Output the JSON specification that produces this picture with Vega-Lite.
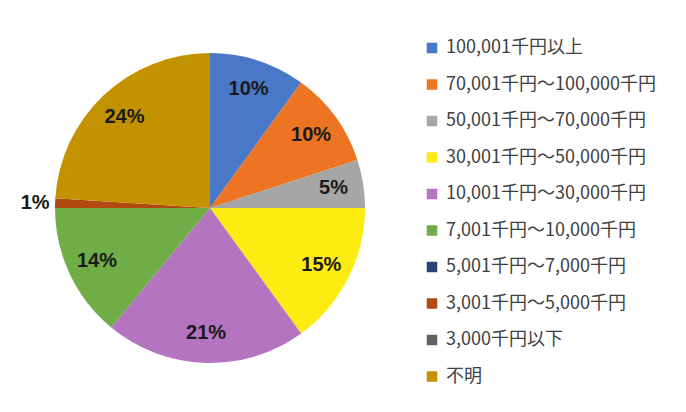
{
  "$schema": "https://vega.github.io/schema/vega-lite/v6.json",
  "width": 420,
  "height": 412,
  "padding": {"left": 0, "top": 2, "right": 0, "bottom": 0},
  "background": "white",
  "config": {"view": {"stroke": null}},
  "data": {
    "values": [
      {"idx": 1, "category": "100,001千円以上", "value": 10, "label": "10%"},
      {"idx": 2, "category": "70,001千円～100,000千円", "value": 10, "label": "10%"},
      {"idx": 3, "category": "50,001千円～70,000千円", "value": 5, "label": "5%"},
      {"idx": 4, "category": "30,001千円～50,000千円", "value": 15, "label": "15%"},
      {"idx": 5, "category": "10,001千円～30,000千円", "value": 21, "label": "21%"},
      {"idx": 6, "category": "7,001千円～10,000千円", "value": 14, "label": "14%"},
      {"idx": 7, "category": "5,001千円～7,000千円", "value": 0, "label": ""},
      {"idx": 8, "category": "3,001千円～5,000千円", "value": 1, "label": "1%"},
      {"idx": 9, "category": "3,000千円以下", "value": 0, "label": ""},
      {"idx": 10, "category": "不明", "value": 24, "label": "24%"}
    ]
  },
  "encoding": {
    "theta": {"field": "value", "type": "quantitative", "stack": true},
    "order": {"field": "idx", "type": "quantitative"}
  },
  "layer": [
    {
      "mark": {"type": "arc", "outerRadius": 155},
      "encoding": {
        "color": {
          "field": "category",
          "type": "nominal",
          "sort": null,
          "scale": {
            "domain": ["100,001千円以上", "70,001千円～100,000千円", "50,001千円～70,000千円", "30,001千円～50,000千円", "10,001千円～30,000千円", "7,001千円～10,000千円", "5,001千円～7,000千円", "3,001千円～5,000千円", "3,000千円以下", "不明"],
            "range": ["#4a78c9", "#ec7422", "#a6a6a6", "#fdec12", "#b474c0", "#71ad47", "#264478", "#b04a10", "#636363", "#c39200"]
          },
          "legend": {
            "title": null,
            "orient": "none",
            "legendX": 423,
            "legendY": 37,
            "padding": 0,
            "symbolType": "square",
            "symbolSize": 110,
            "symbolStrokeWidth": 0,
            "labelFont": "Noto Sans CJK JP",
            "labelFontSize": 18,
            "labelColor": "#404040",
            "labelOffset": 5,
            "rowPadding": 18.5,
            "labelLimit": 400
          }
        }
      }
    },
    {
      "mark": {"type": "text", "radius": 125, "font": "Liberation Sans", "fontSize": 20, "fontWeight": "bold", "color": "#1a1a1a"},
      "encoding": {
        "text": {"condition": {"test": "datum.value >= 2", "field": "label"}, "value": ""}
      }
    },
    {
      "mark": {"type": "text", "radius": 175, "font": "Liberation Sans", "fontSize": 20, "fontWeight": "bold", "color": "#1a1a1a"},
      "encoding": {
        "text": {"condition": {"test": "datum.value > 0 && datum.value < 2", "field": "label"}, "value": ""}
      }
    }
  ]
}
